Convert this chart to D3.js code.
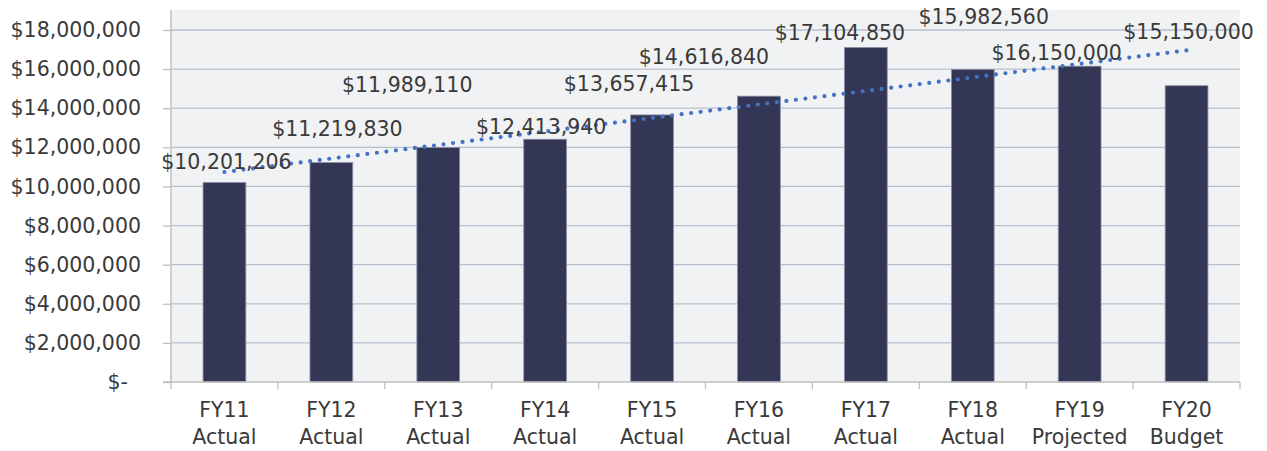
<!DOCTYPE html>
<html><head><meta charset="utf-8">
<script src="https://cdn.jsdelivr.net/npm/d3@7"></script>
<style>
html,body{margin:0;padding:0;background:#fff;}
svg{display:block;}
text{font-family:"DejaVu Sans",sans-serif;fill:#3a3a3a;}
</style></head>
<body>
<svg id="chart" width="1267" height="451"></svg>
<script>
// ---- data ----
const fiscalYears = ["FY11","FY12","FY13","FY14","FY15","FY16","FY17","FY18","FY19","FY20"];
const yearTypes   = ["Actual","Actual","Actual","Actual","Actual","Actual","Actual","Actual","Projected","Budget"];
const amounts     = [10201206,11219830,11989110,12413940,13657415,14616840,17104850,15982560,16150000,15150000];
const yTicks      = [0,2000000,4000000,6000000,8000000,10000000,12000000,14000000,16000000,18000000];

// ---- layout (label nudges in px, relative to bar top centre) ----
const labelNudge = [[2,-21],[6,-34],[-31,-63],[-4,-13],[-23,-31],[-55,-40],[-26,-15],[11,-53],[-23,-14],[2,-54]];

const W = 1267, H = 451;
const m = {left:171, right:27, top:30, bottom:69};
const plotTop = 10;
const svg = d3.select("#chart");
const fs = 20.5;

const x = d3.scaleBand().domain(fiscalYears).range([m.left, W - m.right]).paddingInner(0.6).paddingOuter(0.3);
const xOuter = d3.scaleBand().domain(fiscalYears).range([m.left, W - m.right]);
const y = d3.scaleLinear().domain([0,18000000]).range([H - m.bottom, m.top]);

// plot background
svg.append("rect").attr("x", m.left).attr("y", plotTop)
  .attr("width", W - m.right - m.left).attr("height", y(0) - plotTop).attr("fill", "#f1f2f4");

// gridlines
svg.append("g").selectAll("line").data(yTicks.filter(d => d > 0)).join("line")
  .attr("x1", m.left).attr("x2", W - m.right)
  .attr("y1", d => y(d)).attr("y2", d => y(d))
  .attr("stroke", "#b7bfcf").attr("stroke-width", 1.3);

// y axis
const fmt = d => d === 0 ? "$-" : "$" + d3.format(",")(d);
const yAxis = svg.append("g").attr("transform", `translate(${m.left},0)`)
  .call(d3.axisLeft(y).tickValues(yTicks).tickFormat(fmt).tickSize(8).tickPadding(22));
yAxis.select(".domain").remove();
yAxis.selectAll(".tick line").attr("stroke", "#bfbfbf").attr("stroke-width", 1.3);
yAxis.selectAll(".tick text").attr("font-size", fs).attr("fill", "#3a3a3a")
  .attr("font-family", '"DejaVu Sans",sans-serif')
  .attr("dx", d => d === 0 ? -13 : 0);
svg.append("line").attr("x1", m.left).attr("x2", m.left).attr("y1", plotTop).attr("y2", y(0))
  .attr("stroke", "#bfbfbf").attr("stroke-width", 1.5);

// bars
svg.append("g").selectAll("rect").data(amounts).join("rect")
  .attr("x", (d,i) => x(fiscalYears[i]))
  .attr("y", d => y(d))
  .attr("width", x.bandwidth())
  .attr("height", d => y(0) - y(d))
  .attr("fill", "#343655")
  .attr("stroke", "#8d8fa6").attr("stroke-width", 0.8);

// x axis
svg.append("line").attr("x1", m.left - 8).attr("x2", W - m.right).attr("y1", y(0)).attr("y2", y(0))
  .attr("stroke", "#bfbfbf").attr("stroke-width", 1.5);
const bounds = fiscalYears.map(f => xOuter(f)).concat([W - m.right]);
svg.append("g").selectAll("line").data(bounds).join("line")
  .attr("x1", d => d).attr("x2", d => d).attr("y1", y(0)).attr("y2", y(0) + 7)
  .attr("stroke", "#bfbfbf").attr("stroke-width", 1.3);

const cat = svg.append("g").selectAll("text").data(fiscalYears).join("text")
  .attr("text-anchor", "middle").attr("font-size", fs)
  .attr("x", d => x(d) + x.bandwidth()/2);
cat.append("tspan").attr("x", d => x(d) + x.bandwidth()/2).attr("y", y(0) + 35).text(d => d);
cat.append("tspan").attr("x", d => x(d) + x.bandwidth()/2).attr("y", y(0) + 62).text((d,i) => yearTypes[i]);

// linear trendline (least squares on the data)
const n = amounts.length;
const xs = d3.range(1, n + 1);
const mx = d3.mean(xs), my = d3.mean(amounts);
const slope = d3.sum(xs.map((v,i) => (v - mx) * (amounts[i] - my))) / d3.sum(xs.map(v => (v - mx) ** 2));
const icpt = my - slope * mx;
const trend = [xs[0], xs[n-1]].map(v => [x(fiscalYears[v-1]) + x.bandwidth()/2, y(icpt + slope * v)]);
svg.append("path").attr("d", d3.line()(trend))
  .attr("fill", "none").attr("stroke", "#4472c4").attr("stroke-width", 4.2)
  .attr("stroke-linecap", "round").attr("stroke-dasharray", "0 9.6");

// data labels
svg.append("g").selectAll("text").data(amounts).join("text")
  .attr("text-anchor", "middle").attr("font-size", fs)
  .attr("x", (d,i) => x(fiscalYears[i]) + x.bandwidth()/2 + labelNudge[i][0])
  .attr("y", (d,i) => y(d) + labelNudge[i][1] + fs * 0.36)
  .text(d => "$" + d3.format(",")(d));
</script>
</body></html>
